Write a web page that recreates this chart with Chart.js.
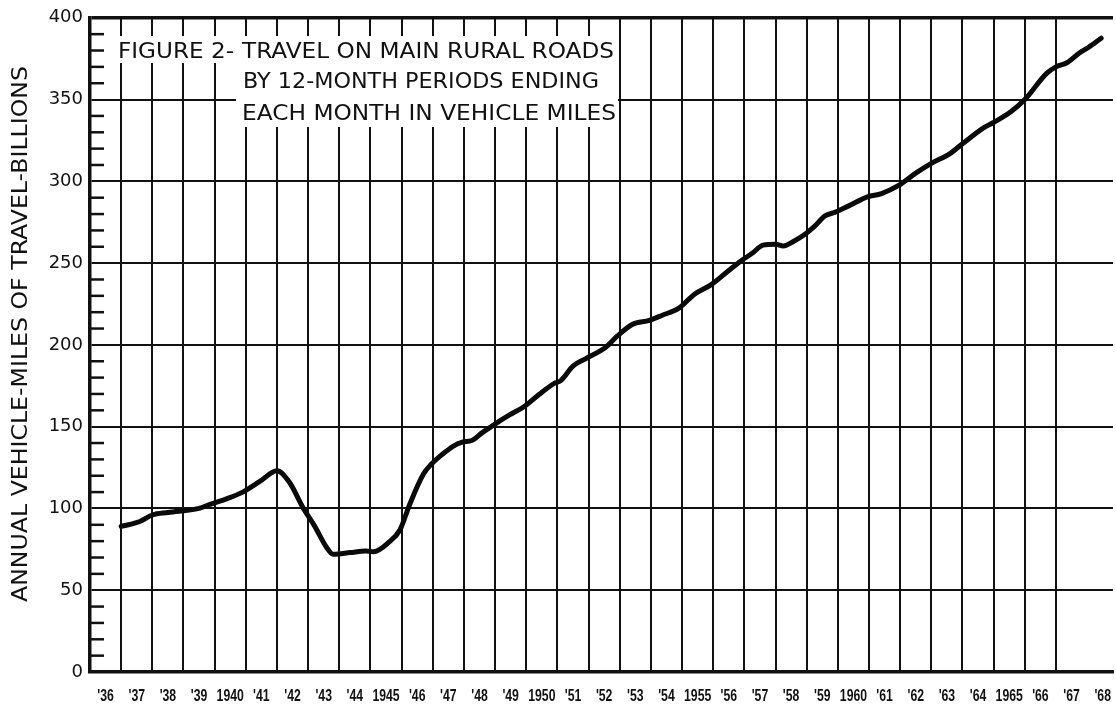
<!DOCTYPE html>
<html>
<head>
<meta charset="utf-8">
<title>Figure 2 - Travel on main rural roads</title>
<script src="https://cdn.jsdelivr.net/npm/chart.js@4.4.0/dist/chart.umd.min.js"></script>
<style>
  html, body { margin: 0; padding: 0; background: #fff; overflow: hidden; }
  #wrap { position: relative; width: 1116px; height: 708px; }
</style>
</head>
<body>
<div id="wrap"><canvas id="travel"></canvas></div>
<script>
/* ─── DATA ─── */
// 12-month periods ending each month, position in years
const periods = [
  1937.0, 1937.6, 1938.0, 1938.5, 1939.5, 1939.85, 1940.4, 1940.9, 1941.45, 1942.0,
  1942.4, 1942.85, 1943.2, 1943.6, 1943.8, 1944.35, 1944.85, 1945.1, 1945.6, 1945.95,
  1946.25, 1946.7, 1946.95, 1947.3, 1947.65, 1947.95, 1948.25, 1948.6, 1948.95, 1949.45,
  1949.95, 1950.4, 1950.9, 1951.1, 1951.5, 1951.9, 1952.55, 1952.9, 1953.4, 1953.95,
  1954.35, 1954.9, 1955.4, 1955.95, 1956.5, 1956.9, 1957.25, 1957.6, 1958.0, 1958.25,
  1958.6, 1958.9, 1959.25, 1959.6, 1959.9, 1960.35, 1960.95, 1961.4, 1961.95, 1962.5,
  1963.0, 1963.6, 1964.0, 1964.7, 1965.0, 1965.55, 1966.0, 1966.7, 1967.0, 1967.35,
  1967.75, 1968.05, 1968.45
];
// annual vehicle-miles, billions
const vehicleMiles = [
  89, 92, 96, 97.5, 100, 102.5, 106, 110, 116.5, 123,
  116, 100, 89.5, 76, 72, 73, 74, 73.5, 79.5, 87,
  102, 121, 127, 133, 138, 140.5, 141.5, 146.5, 151, 157,
  162.5, 169.5, 176.5, 178, 187, 191.5, 198.5, 205, 212.5, 215,
  218, 222.5, 231, 237, 245.5, 251.5, 256, 261, 261.5, 260.5,
  263.5, 267, 272.5, 279, 281, 285, 290.5, 292.5, 297.5, 305,
  311, 317, 323, 333, 336, 342.5, 350, 366, 370, 372.5,
  378.5, 382, 387.5
];
const yearLabels = [
  "'36", "'37", "'38", "'39", "1940", "'41", "'42", "'43", "'44", "1945",
  "'46", "'47", "'48", "'49", "1950", "'51", "'52", "'53", "'54", "1955",
  "'56", "'57", "'58", "'59", "1960", "'61", "'62", "'63", "'64", "1965",
  "'66", "'67", "'68"
];
const milesLabels = ['0', '50', '100', '150', '200', '250', '300', '350', '400'];
const captionLines = [
  'FIGURE 2-',
  'TRAVEL ON MAIN RURAL ROADS',
  'BY 12-MONTH PERIODS ENDING',
  'EACH MONTH IN VEHICLE MILES'
];
const yTitle = 'ANNUAL VEHICLE-MILES OF TRAVEL-BILLIONS';
const FIRST_YEAR = 1936;

const INK = '#111';

// draw text squeezed / stretched to a given width
function fitText(ctx, txt, x, y, w) {
  const m = ctx.measureText(txt).width;
  ctx.save();
  ctx.translate(x, y);
  ctx.scale(w / m, 1);
  ctx.fillText(txt, 0, 0);
  ctx.restore();
}

/* ─── caption box, minor ticks, lettering ─── */
const paperNotes = {
  id: 'paperNotes',
  beforeDatasetsDraw(chart) {
    const { ctx, chartArea, scales } = chart;
    const y = scales.y;
    ctx.save();

    // short minor marks every 10 along the left axis
    ctx.strokeStyle = INK;
    ctx.lineWidth = 2.5;
    y.ticks.forEach(t => {
      if (t.value % 50 === 0) return;
      const py = y.getPixelForValue(t.value);
      ctx.beginPath();
      ctx.moveTo(chartArea.left, py);
      ctx.lineTo(chartArea.left + 14, py);
      ctx.stroke();
    });

    // white lettering panel hides the grid behind the caption
    ctx.fillStyle = '#fff';
    ctx.fillRect(108, 36, 510, 27);
    ctx.fillRect(236, 63, 382, 64);

    ctx.fillStyle = INK;
    ctx.font = '21px "DejaVu Sans", "Liberation Sans", sans-serif';
    ctx.textBaseline = 'alphabetic';
    const spots = [
      { x: 118, y: 58, w: 116 },
      { x: 242, y: 58, w: 372 },
      { x: 243, y: 88, w: 356 },
      { x: 242, y: 119.5, w: 374 }
    ];
    captionLines.forEach((txt, i) => fitText(ctx, txt, spots[i].x, spots[i].y, spots[i].w));
    ctx.restore();
  },
  afterDraw(chart) {
    const { ctx, chartArea, scales } = chart;
    const x = scales.x;
    ctx.save();
    ctx.fillStyle = INK;

    // year labels sit in the middle of each year column
    ctx.font = 'bold 17px "Liberation Sans", Arial, sans-serif';
    ctx.textBaseline = 'alphabetic';
    yearLabels.forEach((lab, i) => {
      const cx = x.getPixelForValue(FIRST_YEAR + i + 0.5);
      const w = ctx.measureText(lab).width * 0.72;
      fitText(ctx, lab, cx - w / 2, chartArea.bottom + 29, w);
    });

    // vertical axis title
    ctx.font = '22px "DejaVu Sans", sans-serif';
    ctx.translate(27, 334);
    ctx.rotate(-Math.PI / 2);
    const tw = 536;
    fitText(ctx, yTitle, -tw / 2, 0, tw);
    ctx.restore();
  }
};

const pts = periods.map((p, i) => ({ x: p, y: vehicleMiles[i] }));

new Chart(document.getElementById('travel'), {
  type: 'line',
  data: {
    datasets: [{
      data: pts,
      borderColor: '#0a0a0a',
      borderWidth: 5,
      borderCapStyle: 'round',
      borderJoinStyle: 'round',
      pointRadius: 0,
      cubicInterpolationMode: 'monotone',
      fill: false
    }]
  },
  options: {
    responsive: true,
    maintainAspectRatio: false,
    devicePixelRatio: 1,
    animation: false,
    layout: { padding: { top: 17, right: 0, bottom: 0, left: 0 } },
    plugins: { legend: { display: false }, tooltip: { enabled: false } },
    scales: {
      x: {
        type: 'linear',
        min: FIRST_YEAR,
        max: 1968.83,
        afterFit(scale) { scale.height = 36; },
        border: { display: true, color: INK, width: 3.5 },
        grid: {
          drawTicks: false,
          color: c => (c.tick && Number.isInteger(c.tick.value)) ? INK : 'rgba(0,0,0,0)',
          lineWidth: 2
        },
        ticks: {
          stepSize: 1,
          maxTicksLimit: 200,
          autoSkip: false,
          maxRotation: 0,
          minRotation: 0,
          callback: () => ''
        }
      },
      y: {
        min: 0,
        max: 400,
        afterFit(scale) { scale.width = 90; },
        border: { display: true, color: INK, width: 3.5 },
        grid: {
          drawTicks: false,
          color: c => (c.tick && c.tick.value % 50 === 0) ? INK : 'rgba(0,0,0,0)',
          lineWidth: c => (c.tick && c.tick.value === 400) ? 3.5 : 2
        },
        ticks: {
          stepSize: 10,
          maxTicksLimit: 200,
          autoSkip: false,
          padding: 7,
          color: INK,
          font: { family: "'DejaVu Sans', sans-serif", size: 18 },
          callback: v => v % 50 === 0 ? milesLabels[v / 50] : ''
        }
      }
    }
  },
  plugins: [paperNotes]
});
</script>
</body>
</html>
